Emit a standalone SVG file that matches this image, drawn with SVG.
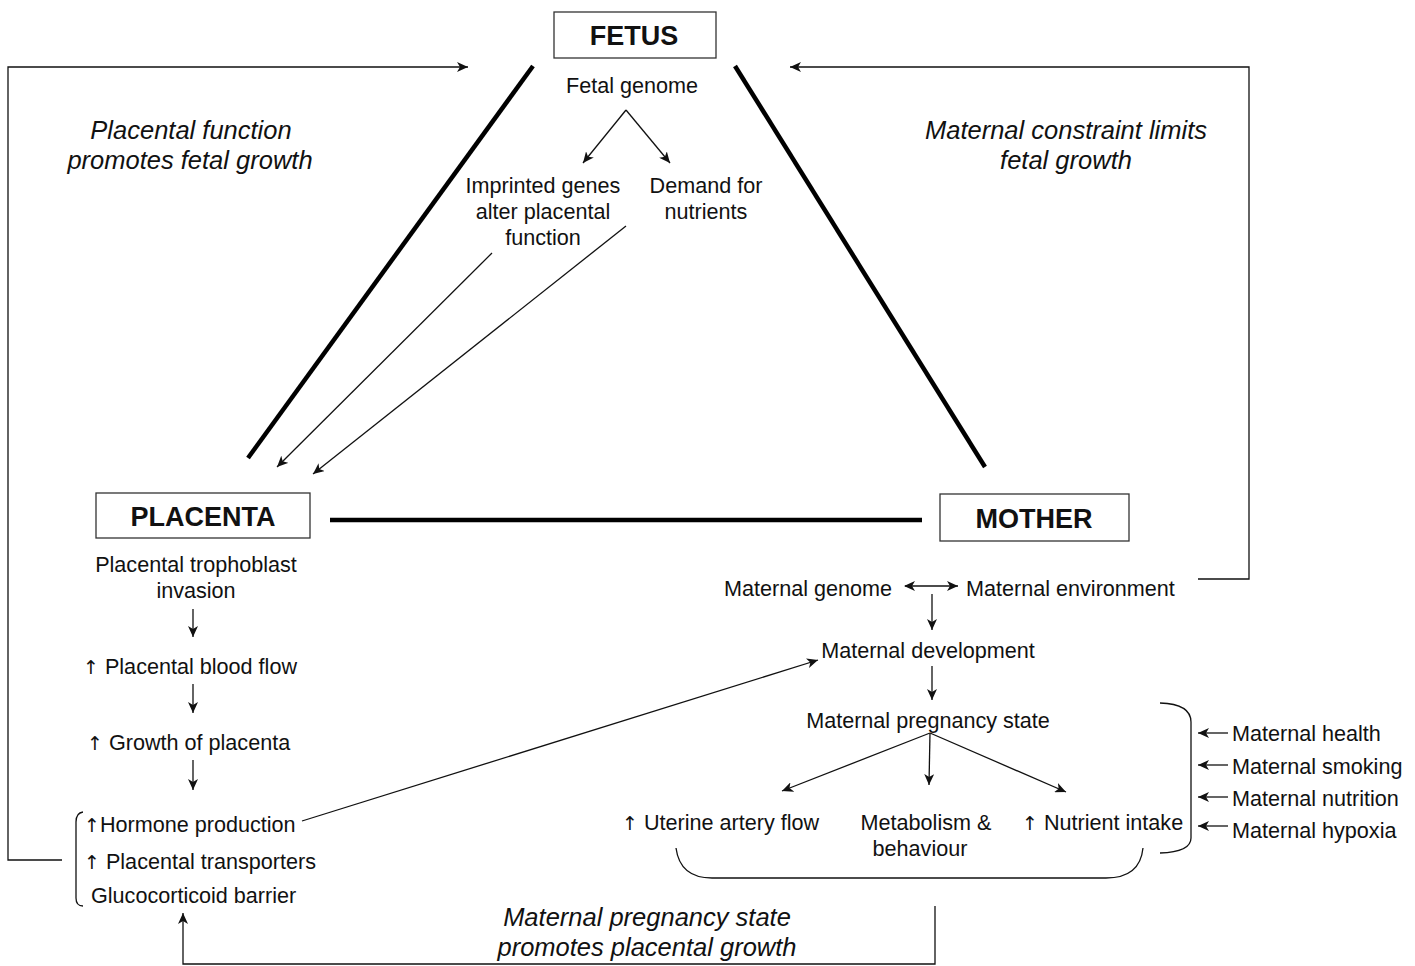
<svg xmlns="http://www.w3.org/2000/svg" width="1415" height="966" viewBox="0 0 1415 966">
<style>
text{font-family:"Liberation Sans",Arial,"DejaVu Sans",sans-serif;fill:#111}
.t{font-size:21.6px}
.c{text-anchor:middle}
.h{font-size:27px;font-weight:bold;text-anchor:middle}
.i{font-size:25.5px;font-style:italic;text-anchor:middle}
.u{font-family:"DejaVu Sans",sans-serif;font-size:19px}
.box{fill:#fff;stroke:#333;stroke-width:1.3}
.ln{fill:none;stroke:#111;stroke-width:1.3}
.ar{fill:none;stroke:#111;stroke-width:1.3;marker-end:url(#ah)}
.thick{fill:none;stroke:#000;stroke-width:4.5}
</style>
<defs>
<marker id="ah" markerUnits="userSpaceOnUse" markerWidth="12" markerHeight="10" refX="11" refY="5" orient="auto">
<path d="M0,0 L11,5 L0,10 L3,5 Z" fill="#111"/>
</marker>
<marker id="ahs" markerUnits="userSpaceOnUse" markerWidth="12" markerHeight="10" refX="1" refY="5" orient="auto">
<path d="M11,0 L0,5 L11,10 L8,5 Z" fill="#111"/>
</marker>
</defs>

<g id="connectors">
<line class="thick" x1="533" y1="66" x2="248" y2="458"/>
<line class="thick" x1="735" y1="66" x2="985" y2="467"/>
<line class="thick" x1="330" y1="520" x2="922" y2="520"/>
<line class="ar" x1="626" y1="110" x2="583" y2="163"/>
<line class="ar" x1="626" y1="110" x2="670" y2="163"/>
<line class="ar" x1="492" y1="253" x2="277" y2="467"/>
<line class="ar" x1="626" y1="226" x2="313" y2="474"/>
<polyline class="ar" points="62,860 8,860 8,67 468,67"/>
<polyline class="ar" points="1198,579 1249,579 1249,67 790,67"/>
<line class="ar" x1="193" y1="609" x2="193" y2="637"/>
<line class="ar" x1="193" y1="684" x2="193" y2="713"/>
<line class="ar" x1="193" y1="760" x2="193" y2="790"/>
<path class="ln" d="M83,812 Q76,813 76,822 L76,898 Q76,906 83,906"/>
<line class="ar" x1="302" y1="821" x2="818" y2="660"/>
<polyline class="ar" points="935,906 935,964 183,964 183,913"/>
<line class="ln" x1="905" y1="586" x2="958" y2="586" marker-start="url(#ahs)" marker-end="url(#ah)"/>
<line class="ar" x1="932" y1="594" x2="932" y2="630"/>
<line class="ar" x1="932" y1="666" x2="932" y2="700"/>
<line class="ar" x1="930" y1="733" x2="782" y2="791"/>
<line class="ar" x1="930" y1="733" x2="929" y2="785"/>
<line class="ar" x1="930" y1="733" x2="1066" y2="792"/>
<path class="ln" d="M676,848 Q680,878 712,878 L1106,878 Q1140,878 1143,848"/>
<path class="ln" d="M1160,703 Q1191,704 1191,722 L1191,838 Q1191,852 1160,853"/>
<line class="ar" x1="1228" y1="733" x2="1198" y2="733"/>
<line class="ar" x1="1228" y1="765" x2="1198" y2="765"/>
<line class="ar" x1="1228" y1="797" x2="1198" y2="797"/>
<line class="ar" x1="1228" y1="826" x2="1198" y2="826"/>
</g>

<g id="fetus">
<rect class="box" x="554" y="12" width="162" height="46"/>
<text class="h" x="634" y="45">FETUS</text>
<text class="t c" x="632" y="93">Fetal genome</text>
</g>
<g id="imprinted">
<text class="t c" x="543" y="193">Imprinted genes</text>
<text class="t c" x="543" y="219">alter placental</text>
<text class="t c" x="543" y="245">function</text>
</g>
<g id="demand">
<text class="t c" x="706" y="193">Demand for</text>
<text class="t c" x="706" y="219">nutrients</text>
</g>

<g id="label-left">
<text class="i" x="191" y="139">Placental function</text>
<text class="i" x="190" y="169">promotes fetal growth</text>
</g>
<g id="label-right">
<text class="i" x="1066" y="139">Maternal constraint limits</text>
<text class="i" x="1066" y="169">fetal growth</text>
</g>
<g id="label-bottom">
<text class="i" x="647" y="926">Maternal pregnancy state</text>
<text class="i" x="647" y="956">promotes placental growth</text>
</g>

<g id="placenta">
<rect class="box" x="96" y="493" width="214" height="45"/>
<text class="h" x="203" y="526">PLACENTA</text>
<text class="t c" x="196" y="572">Placental trophoblast</text>
<text class="t c" x="196" y="598">invasion</text>
<text class="t" x="83" y="674"><tspan class="u">↑</tspan> Placental blood flow</text>
<text class="t" x="87" y="750"><tspan class="u">↑</tspan> Growth of placenta</text>
<text class="t" x="84" y="832"><tspan class="u">↑</tspan>Hormone production</text>
<text class="t" x="84" y="869"><tspan class="u">↑</tspan> Placental transporters</text>
<text class="t" x="91" y="903">Glucocorticoid barrier</text>
</g>

<g id="mother">
<rect class="box" x="940" y="494" width="189" height="47"/>
<text class="h" x="1034" y="528">MOTHER</text>
<text class="t c" x="808" y="596">Maternal genome</text>
<text class="t" x="966" y="596">Maternal environment</text>
<text class="t c" x="928" y="658">Maternal development</text>
<text class="t c" x="928" y="728">Maternal pregnancy state</text>
<text class="t" x="622" y="830"><tspan class="u">↑</tspan> Uterine artery flow</text>
<text class="t c" x="926" y="830">Metabolism &amp;</text>
<text class="t c" x="920" y="856">behaviour</text>
<text class="t" x="1022" y="830"><tspan class="u">↑</tspan> Nutrient intake</text>
</g>

<g id="factors">
<text class="t" x="1232" y="741">Maternal health</text>
<text class="t" x="1232" y="774">Maternal smoking</text>
<text class="t" x="1232" y="806">Maternal nutrition</text>
<text class="t" x="1232" y="838">Maternal hypoxia</text>
</g>
</svg>
